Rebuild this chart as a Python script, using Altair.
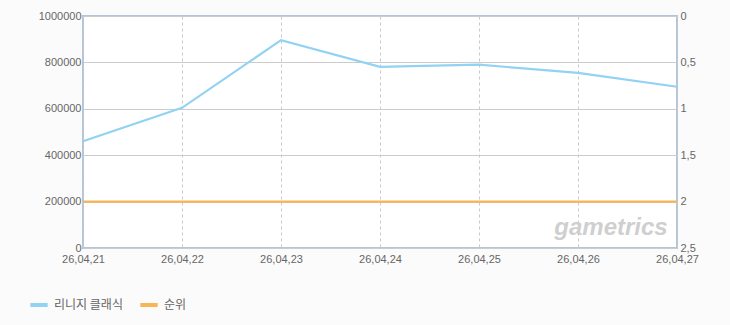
import altair as alt
import pandas as pd

dates = ["26,04,21", "26,04,22", "26,04,23", "26,04,24", "26,04,25", "26,04,26", "26,04,27"]
users = [460000, 604000, 896000, 781000, 790000, 755000, 695000]
rank = [2, 2, 2, 2, 2, 2, 2]
series_names = ["리니지 클래식", "순위"]
series_colors = ["#92d2f2", "#f7b655"]

df = pd.DataFrame({"date": dates, "users": users, "rank": rank})
df["s_users"] = series_names[0]
df["s_rank"] = series_names[1]

FONT = "Liberation Sans"
xenc = alt.X("date:N", sort=dates, scale=alt.Scale(type="point", padding=0),
             axis=alt.Axis(title=None, labelAngle=0, ticks=False, domain=False,
                           grid=True, gridDash=[3, 3], gridColor="#c8c8c8",
                           labelFont=FONT, labelFontSize=11, labelColor="#666666",
                           labelPadding=5, labelOverlap=False))
color = alt.Color("series:N", scale=alt.Scale(domain=series_names, range=series_colors),
                  legend=alt.Legend(title=None, orient="none", legendX=-55, legendY=278,
                                    direction="horizontal", symbolType="stroke",
                                    symbolStrokeWidth=4, symbolSize=300,
                                    labelFont="Noto Sans CJK KR", labelFontSize=12,
                                    labelColor="#666666", columnPadding=9, symbolOffset=0))

line1 = alt.Chart(df).transform_calculate(series="datum.s_users").mark_line(strokeWidth=2.2).encode(
    x=xenc,
    y=alt.Y("users:Q", scale=alt.Scale(domain=[0, 1000000], nice=False),
            axis=alt.Axis(title=None, values=[0, 200000, 400000, 600000, 800000, 1000000],
                          format="d", ticks=False, domain=False, grid=True, gridColor="#cccccc",
                          labelFont=FONT, labelFontSize=11, labelColor="#666666", labelPadding=2)),
    color=color,
)

line2 = alt.Chart(df).transform_calculate(series="datum.s_rank").mark_line(strokeWidth=2.2).encode(
    x=xenc,
    y=alt.Y("rank:Q", scale=alt.Scale(domain=[0, 2.5], reverse=True, nice=False),
            axis=alt.Axis(title=None, orient="right", values=[0, 0.5, 1, 1.5, 2, 2.5],
                          labelExpr="replace(toString(datum.value), '.', ',')",
                          ticks=False, domain=False, grid=False,
                          labelFont=FONT, labelFontSize=11, labelColor="#666666", labelPadding=3)),
    color=color,
)

wm = alt.Chart(pd.DataFrame({"t": ["gametrics"]})).mark_text(
    font=FONT, fontSize=24, fontStyle="italic", fontWeight="bold", color="#cfcfcf",
    align="center", baseline="middle").encode(
    text="t:N", x=alt.value(528), y=alt.value(212))

chart = alt.layer(line1, line2, wm).resolve_scale(y="independent", color="shared").properties(
    width=594, height=232, background="#fbfbfb",
    padding={"left": 83, "top": 16, "right": 53, "bottom": 77},
    autosize=alt.AutoSizeParams(type="none"),
).configure_view(fill="white", stroke="#b3c5da", strokeWidth=2)

chart.save("out.html", embed_options={"renderer": "svg", "actions": False})
